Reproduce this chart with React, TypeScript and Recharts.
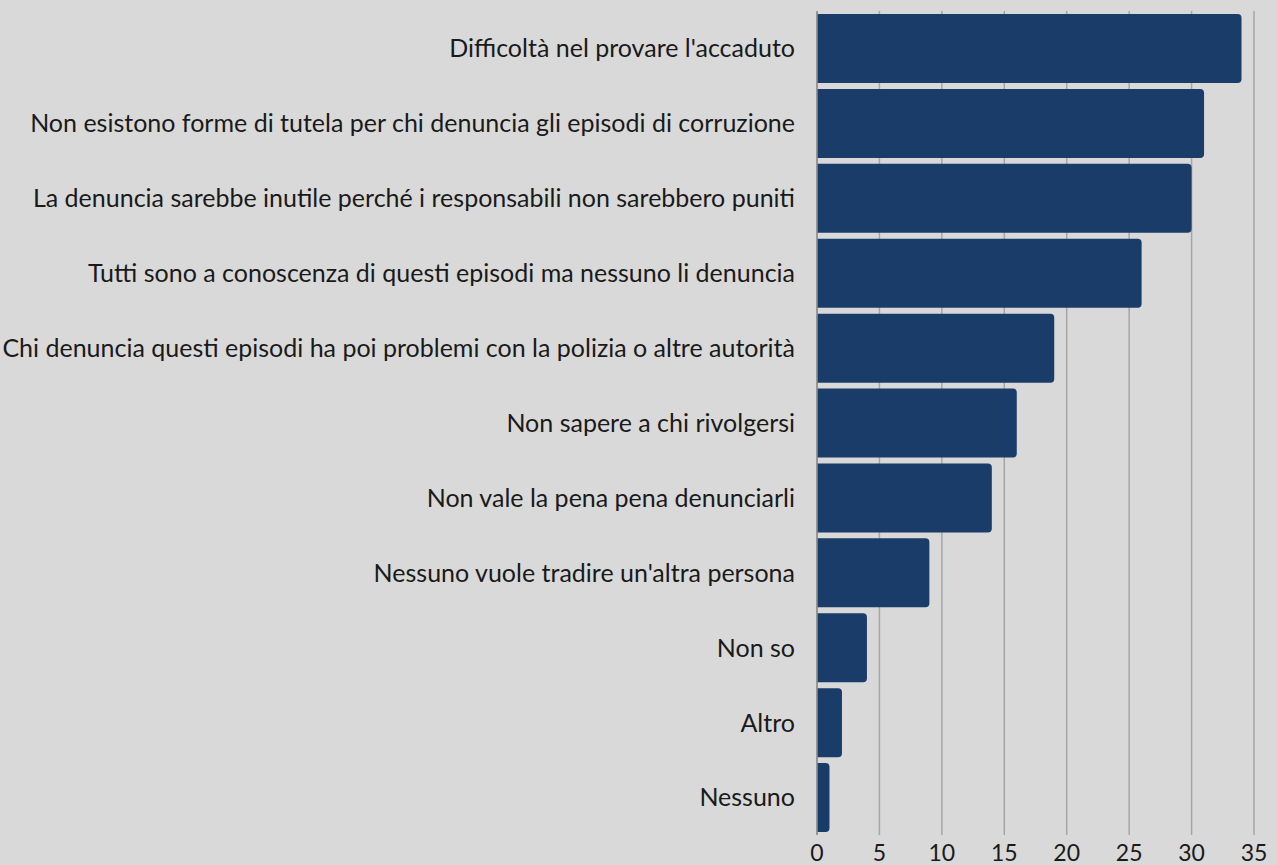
import { BarChart, Bar, XAxis, YAxis, CartesianGrid } from 'recharts';

// Reasons for not reporting
const categories = [
  'Difficoltà nel provare l\'accaduto',
  'Non esistono forme di tutela per chi denuncia gli episodi di corruzione',
  'La denuncia sarebbe inutile perché i responsabili non sarebbero puniti',
  'Tutti sono a conoscenza di questi episodi ma nessuno li denuncia',
  'Chi denuncia questi episodi ha poi problemi con la polizia o altre autorità',
  'Non sapere a chi rivolgersi',
  'Non vale la pena pena denunciarli',
  'Nessuno vuole tradire un\'altra persona',
  'Non so',
  'Altro',
  'Nessuno',
];
const values = [34, 31, 30, 26, 19, 16, 14, 9, 4, 2, 1];
const xTicks = [0, 5, 10, 15, 20, 25, 30, 35];

const BAR_COLOR = '#1a3c69';
const GRID_COLOR = '#a6a6a6';
const FONT = 'Lato, "Open Sans", sans-serif';

const data = categories.map((name, i) => ({ name, value: values[i] }));

const App = () => {
  return (
    <div style={{ position: 'absolute', left: 0, top: 0, width: 1277, height: 865, background: '#d9d9d9', overflow: 'hidden' }}>
      <BarChart
        width={1277}
        height={865}
        data={data}
        layout="vertical"
        margin={{ top: 11, right: 23, bottom: 0, left: 0 }}
        barCategoryGap={3}
      >
        <CartesianGrid horizontal={false} stroke={GRID_COLOR} strokeWidth={1.5} />
        <XAxis
          type="number"
          domain={[0, 35]}
          ticks={xTicks}
          axisLine={false}
          tickLine={false}
          height={30}
          tickMargin={4}
          tick={{ fill: '#1a1a1a', fontSize: 23, fontFamily: FONT }}
        />
        <YAxis
          type="category"
          dataKey="name"
          width={817}
          interval={0}
          axisLine={{ stroke: '#8c8c8c', strokeWidth: 1.5 }}
          tickLine={false}
          tickMargin={16}
          tick={{ fill: '#1a1a1a', fontSize: 25, fontFamily: FONT }}
        />
        <Bar dataKey="value" fill={BAR_COLOR} radius={[0, 4, 4, 0]} isAnimationActive={false} />
      </BarChart>
    </div>
  );
};

export default App;
